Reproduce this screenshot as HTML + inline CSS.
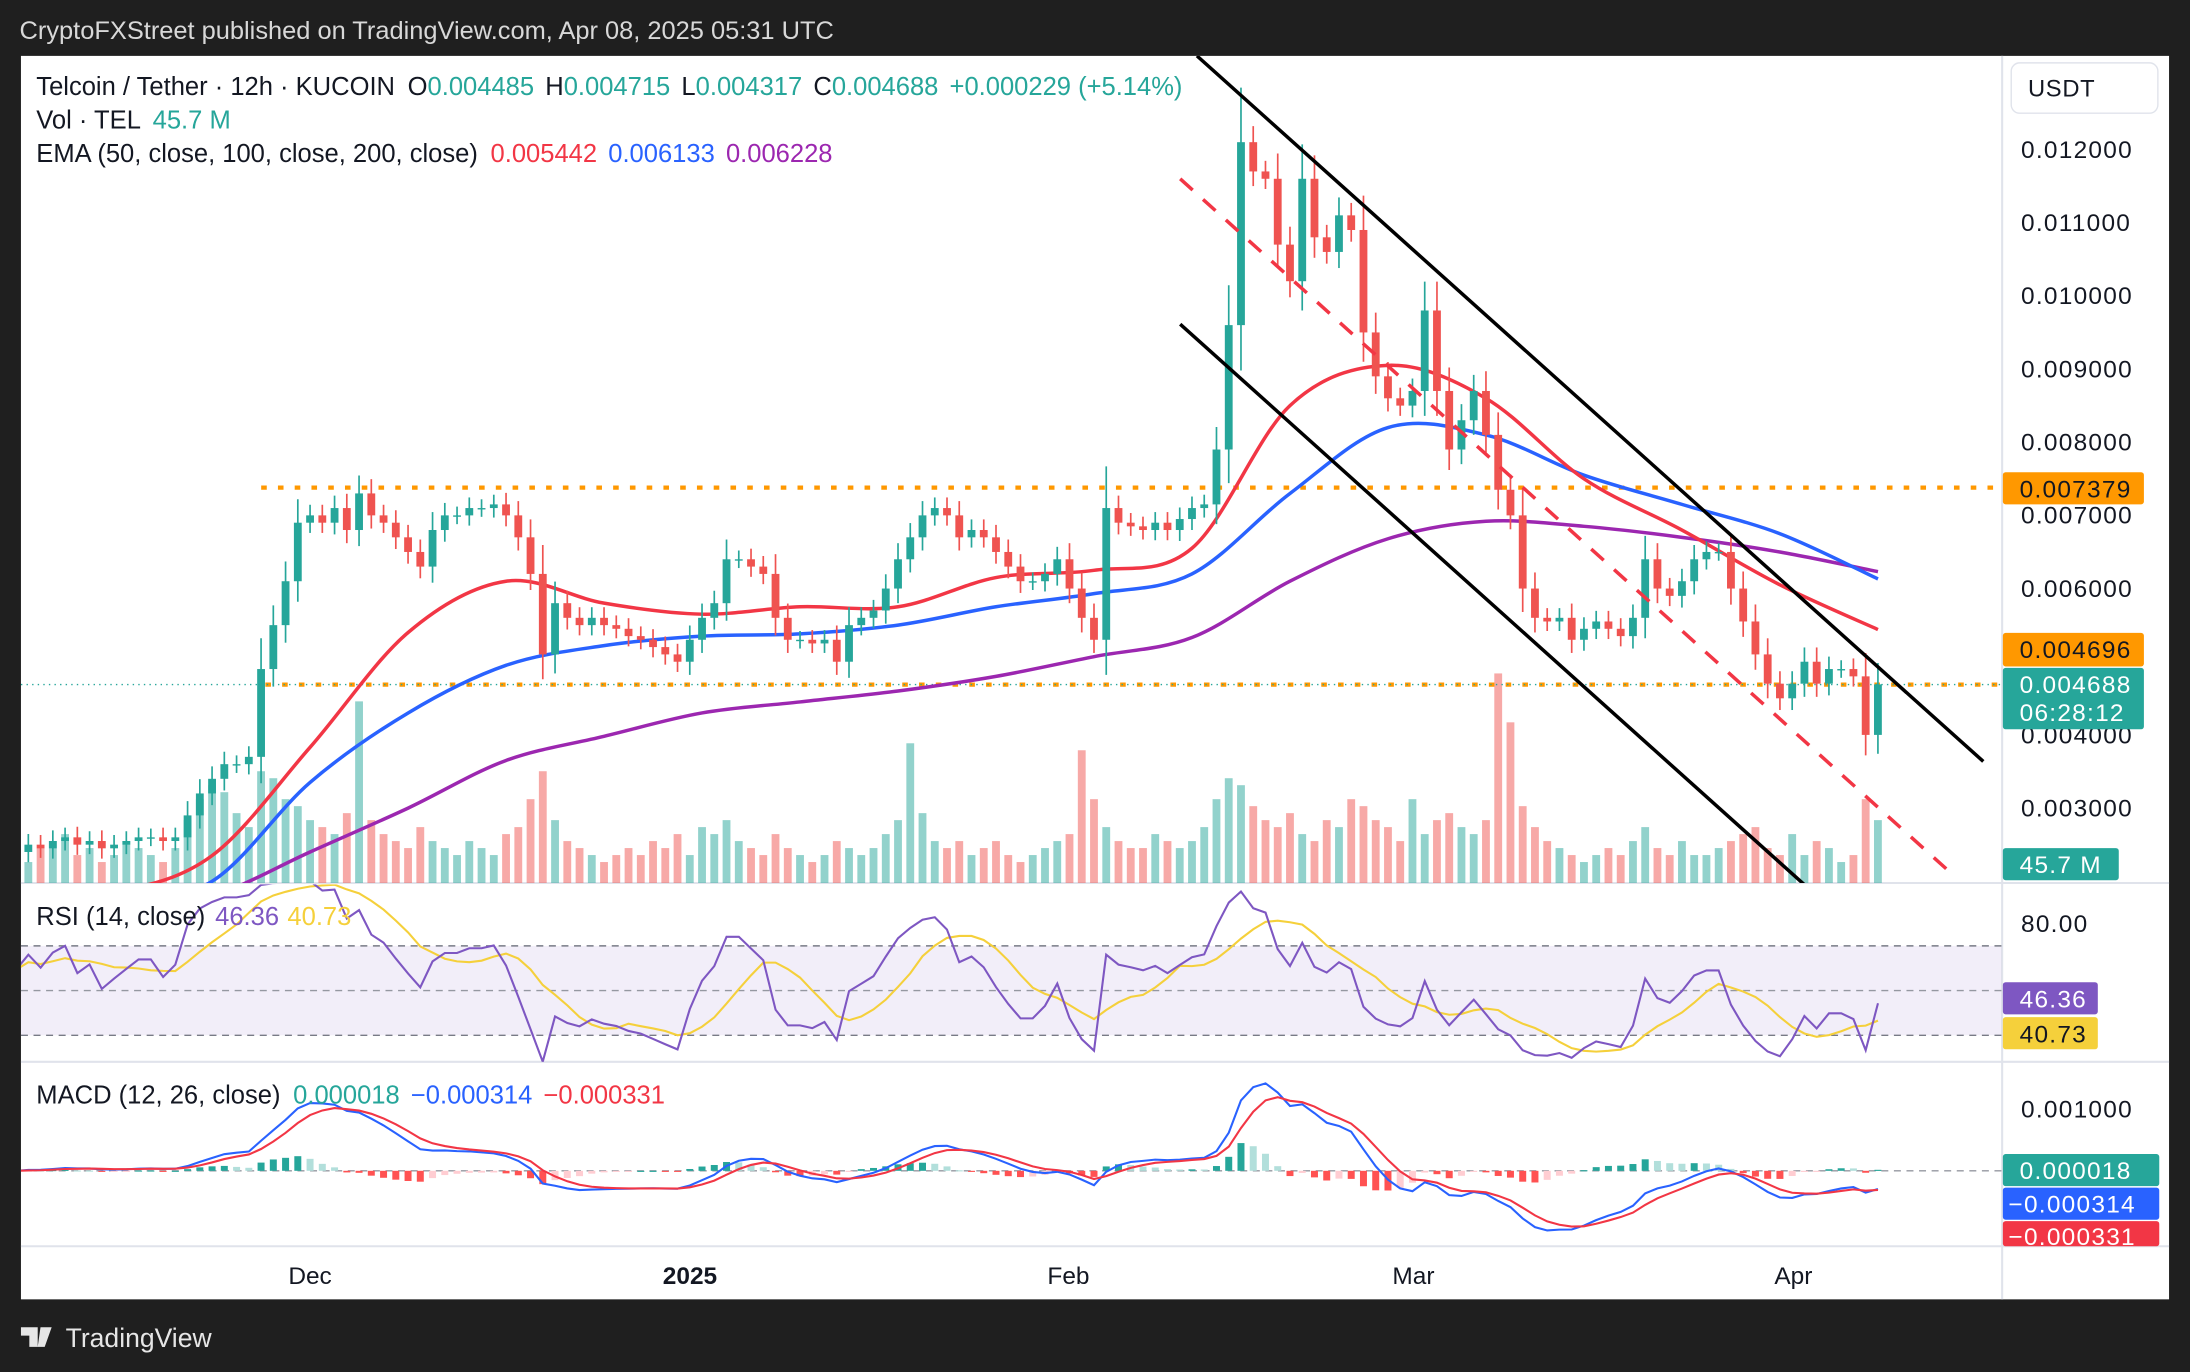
<!DOCTYPE html>
<html><head><meta charset="utf-8"><style>
html,body{margin:0;padding:0;background:#1f1f1f;}
svg{display:block;font-family:"Liberation Sans",sans-serif;}
</style></head><body>
<svg id="chart" width="2190" height="1372" viewBox="0 0 1568 982" preserveAspectRatio="none" xmlns="http://www.w3.org/2000/svg">
<rect x="0" y="0" width="1568" height="982" fill="#1f1f1f"/>
<text x="14" y="28" font-size="18.2" fill="#d8d8d8">CryptoFXStreet published on TradingView.com, Apr 08, 2025 05:31 UTC</text>
<rect x="15" y="40" width="1538" height="890" fill="#ffffff"/>
<defs>
<clipPath id="pricePane"><rect x="15" y="40" width="1418" height="592"/></clipPath>
<clipPath id="rsiPane"><rect x="15" y="633" width="1418" height="127"/></clipPath>
<clipPath id="macdPane"><rect x="15" y="761" width="1418" height="131"/></clipPath>
</defs>
<g id="grid">
<line x1="15" y1="632" x2="1553" y2="632" stroke="#e0e3eb" stroke-width="1.5"/>
<line x1="15" y1="760" x2="1553" y2="760" stroke="#e0e3eb" stroke-width="1.5"/>
<line x1="15" y1="892" x2="1553" y2="892" stroke="#e0e3eb" stroke-width="1.5"/>
<line x1="1433.5" y1="40" x2="1433.5" y2="930" stroke="#e0e3eb" stroke-width="1.5"/>
</g>
<rect x="15" y="677" width="1418" height="64" fill="#7e57c2" fill-opacity="0.1"/>
<line x1="15" y1="677" x2="1433" y2="677" stroke="#787b86" stroke-dasharray="5,4" stroke-width="1"/>
<line x1="15" y1="709" x2="1433" y2="709" stroke="#9598a1" stroke-dasharray="5,4" stroke-width="1"/>
<line x1="15" y1="741" x2="1433" y2="741" stroke="#787b86" stroke-dasharray="5,4" stroke-width="1"/>
<line x1="15" y1="838" x2="1433" y2="838" stroke="#9598a1" stroke-dasharray="5,4" stroke-width="1"/>
<g id="volumes" clip-path="url(#pricePane)"></g>
<g id="levels" clip-path="url(#pricePane)">
<line x1="187" y1="349" x2="1433" y2="349" stroke="#ff9800" stroke-width="3" stroke-dasharray="4,8"/>
<line x1="190" y1="490" x2="1433" y2="490" stroke="#ff9800" stroke-width="3" stroke-dasharray="4,8"/>
<line x1="15" y1="490" x2="1433" y2="490" stroke="#26a69a" stroke-width="1" stroke-dasharray="1,3"/>
</g>
<g id="emas" clip-path="url(#pricePane)"></g>
<g id="candles" clip-path="url(#pricePane)"></g>
<g id="trendlines" clip-path="url(#pricePane)">
<line x1="857" y1="40" x2="1420" y2="545" stroke="#000" stroke-width="2.5"/>
<line x1="845" y1="232" x2="1295" y2="636" stroke="#000" stroke-width="2.5"/>
<line x1="845" y1="128" x2="1397" y2="625" stroke="#f23645" stroke-width="2.5" stroke-dasharray="12,10"/>
</g>
<g id="rsi" clip-path="url(#rsiPane)"></g>
<g id="macd" clip-path="url(#macdPane)"></g>
<g font-size="18.3">
<text x="26" y="68" fill="#131722">Telcoin / Tether · 12h · KUCOIN <tspan dx="4">O</tspan><tspan fill="#26a69a">0.004485</tspan><tspan dx="8">H</tspan><tspan fill="#26a69a">0.004715</tspan><tspan dx="8">L</tspan><tspan fill="#26a69a">0.004317</tspan><tspan dx="8">C</tspan><tspan fill="#26a69a">0.004688</tspan><tspan dx="8" fill="#26a69a">+0.000229 (+5.14%)</tspan></text>
<text x="26" y="92" fill="#131722">Vol · TEL <tspan dx="4" fill="#26a69a">45.7 M</tspan></text>
<text x="26" y="116" fill="#131722">EMA (50, close, 100, close, 200, close) <tspan dx="4" fill="#f23645">0.005442</tspan><tspan dx="8" fill="#2962ff">0.006133</tspan><tspan dx="8" fill="#9c27b0">0.006228</tspan></text>
<text x="26" y="662" fill="#131722">RSI (14, close) <tspan dx="2" fill="#7e57c2">46.36</tspan><tspan dx="6" fill="#f5d03b">40.73</tspan></text>
<text x="26" y="790" fill="#131722">MACD (12, 26, close) <tspan dx="4" fill="#26a69a">0.000018</tspan><tspan dx="8" fill="#2962ff">−0.000314</tspan><tspan dx="8" fill="#f23645">−0.000331</tspan></text>
</g>
<rect x="1440" y="45" width="105" height="36" rx="6" fill="#fff" stroke="#e0e3eb"/>
<text x="1452" y="69" font-size="17" fill="#131722" letter-spacing="0.5">USDT</text>
<g id="yaxis" font-size="17.5" fill="#131722" letter-spacing="0.9"></g>
<g font-size="17.5" letter-spacing="0.9">
<rect x="1434" y="338" width="101" height="23" rx="2" fill="#ff9800"/>
<text x="1446" y="356" fill="#131722">0.007379</text>
<rect x="1434" y="453" width="101" height="24" rx="2" fill="#ff9800"/>
<text x="1446" y="471" fill="#131722">0.004696</text>
<rect x="1434" y="478" width="101" height="44" rx="2" fill="#26a69a"/>
<text x="1446" y="496" fill="#fff">0.004688</text>
<text x="1446" y="516" fill="#fff">06:28:12</text>
<rect x="1434" y="607" width="83" height="23" rx="2" fill="#26a69a"/>
<text x="1446" y="625" fill="#fff">45.7 M</text>
<text x="1447" y="667" fill="#131722">80.00</text>
<rect x="1434" y="703" width="68" height="23" rx="2" fill="#7e57c2"/>
<text x="1446" y="721" fill="#fff">46.36</text>
<rect x="1434" y="728" width="68" height="23" rx="2" fill="#f5d03b"/>
<text x="1446" y="746" fill="#131722">40.73</text>
<text x="1447" y="800" fill="#131722">0.001000</text>
<rect x="1434" y="826" width="112" height="23" rx="2" fill="#26a69a"/>
<text x="1446" y="844" fill="#fff">0.000018</text>
<rect x="1434" y="850" width="112" height="23" rx="2" fill="#2962ff"/>
<text x="1438" y="868" fill="#fff">−0.000314</text>
<rect x="1434" y="874" width="112" height="18" rx="2" fill="#f23645"/>
<text x="1438" y="891" fill="#fff">−0.000331</text>
</g>
<g font-size="17.5" fill="#131722" text-anchor="middle">
<text x="222" y="919">Dec</text>
<text x="494" y="919" font-weight="bold">2025</text>
<text x="765" y="919">Feb</text>
<text x="1012" y="919">Mar</text>
<text x="1284" y="919">Apr</text>
</g>
<g>
<path d="M15 950h12v14h-6v-8h-6z M29 950h8l-5 14h-5z" fill="#e6e6e6"/>
<text x="47" y="964" font-size="19" fill="#e6e6e6">TradingView</text>
</g>
</svg>
<script>
// price values in thousandths of USDT (daily closes, Nov 7 2024 -> Apr 8 2025)
const closes=[2.4,2.5,2.45,2.55,2.6,2.5,2.55,2.45,2.5,2.55,2.6,2.6,2.55,2.6,
2.9,3.2,3.4,3.6,3.6,3.7,4.9,5.5,6.1,6.9,7.0,6.9,7.1,6.8,
7.3,7.0,6.9,6.7,6.5,6.3,6.8,7.0,7.0,7.1,7.1,7.15,7.0,6.7,
6.2,5.1,5.8,5.6,5.5,5.6,5.5,5.45,5.35,5.3,5.2,5.1,5.0,5.3,
5.6,5.8,6.4,6.4,6.3,6.2,5.6,5.3,5.3,5.25,5.3,5.0,5.5,5.6,
5.7,6.0,6.4,6.7,7.0,7.1,7.0,6.7,6.8,6.7,6.5,6.3,6.1,6.1,
6.2,6.4,6.0,5.6,5.3,7.1,6.9,6.85,6.8,6.9,6.8,6.95,7.1,7.15,
7.9,9.6,12.1,11.7,11.6,10.7,10.2,11.6,10.8,10.6,11.1,10.9,9.5,8.9,
8.6,8.5,8.7,9.8,8.7,7.9,8.3,8.7,8.1,7.35,7.0,6.0,5.6,5.55,
5.6,5.3,5.45,5.55,5.45,5.35,5.6,6.4,6.0,5.9,6.1,6.4,6.5,6.5,
6.0,5.55,5.1,4.7,4.5,4.7,5.0,4.7,4.9,4.9,4.8,4.0,4.69];
const firstOpen=2.35;
const volumes=[20,15,25,30,35,20,25,15,20,30,25,20,15,25,
45,60,70,65,50,40,80,75,60,55,45,40,35,50,
130,45,35,30,25,40,30,25,20,30,25,20,35,40,
60,80,45,30,25,20,15,20,25,20,30,25,35,20,
40,35,45,30,25,20,35,25,20,15,20,30,25,20,
25,35,45,100,50,30,25,30,20,25,30,20,15,20,
25,30,35,95,60,40,30,25,25,35,30,25,30,40,
60,75,70,55,45,40,50,35,30,45,40,60,55,45,
40,30,60,35,45,50,40,35,45,150,115,55,40,30,
25,20,15,20,25,20,30,40,25,20,30,20,20,25,
30,35,40,25,20,35,20,30,25,15,20,60,45];
const emaDays=[0,8,16,24,32,40,48,56,64,72,80,88,96,104,112,120,128,136,144,152];
const ema50=[1.8,1.85,2.35,3.83,5.4,6.1,5.8,5.65,5.75,5.75,6.15,6.25,6.55,8.5,9.05,8.6,7.5,6.8,6.05,5.44];
const ema100=[1.6,1.7,2.0,3.35,4.3,4.95,5.22,5.35,5.38,5.5,5.75,5.93,6.2,7.3,8.2,8.1,7.55,7.15,6.75,6.13];
const ema200=[1.5,1.6,1.8,2.4,3.0,3.65,3.98,4.3,4.45,4.6,4.8,5.07,5.33,6.1,6.68,6.92,6.85,6.7,6.5,6.23];
const priceTicks=[12,11,10,9,8,7,6,4,3];
const priceTickLabels=["0.012000","0.011000","0.010000","0.009000","0.008000","0.007000","0.006000","0.004000","0.003000"];

const NS="http://www.w3.org/2000/svg";
function X(d){return 222+(d-24)*8.77;}
function Y(p){return 107+(12-p)*52.375;}
function RY(v){return 709-(v-50)*1.6;}
function MY(v){return 838-v*45;}
function VY(v){return 632-v;}
function mk(tag,attrs,parent){const e=document.createElementNS(NS,tag);for(const k in attrs)e.setAttribute(k,attrs[k]);parent.appendChild(e);return e;}
function smoothPath(pts){let d="M"+pts[0][0].toFixed(1)+","+pts[0][1].toFixed(1);
for(let i=0;i<pts.length-1;i++){const p0=pts[Math.max(0,i-1)],p1=pts[i],p2=pts[i+1],p3=pts[Math.min(pts.length-1,i+2)];
const c1x=p1[0]+(p2[0]-p0[0])/6,c1y=p1[1]+(p2[1]-p0[1])/6,c2x=p2[0]-(p3[0]-p1[0])/6,c2y=p2[1]-(p3[1]-p1[1])/6;
d+=" C"+c1x.toFixed(1)+","+c1y.toFixed(1)+" "+c2x.toFixed(1)+","+c2y.toFixed(1)+" "+p2[0].toFixed(1)+","+p2[1].toFixed(1);}
return d;}
const UP="#26a69a",DN="#ef5350";

const ya=document.getElementById('yaxis');
priceTicks.forEach((p,i)=>{const t=mk('text',{x:1447,y:Y(p)+6},ya);t.textContent=priceTickLabels[i];

});

const vg=document.getElementById('volumes');
closes.forEach((c,i)=>{const o=i?closes[i-1]:firstOpen;
const r=mk('rect',{x:X(i)-2.8,y:VY(volumes[i]),width:5.6,height:volumes[i],fill:c>=o?"rgba(38,166,154,0.5)":"rgba(239,83,80,0.5)"},vg);

});

const eg=document.getElementById('emas');
[[ema200,"#9c27b0","ema-200-line"],[ema100,"#2962ff","ema-100-line"],[ema50,"#f23645","ema-50-line"]].forEach(([arr,col,name])=>{
const pts=arr.map((v,i)=>[X(emaDays[i]),Y(v)]);
const pl=mk('path',{d:smoothPath(pts),fill:"none",stroke:col,"stroke-width":2.5,"stroke-linejoin":"round"},eg);

});

const cg=document.getElementById('candles');
closes.forEach((c,i)=>{const o=i?closes[i-1]:firstOpen;const col=c>=o?UP:DN;
const top=Math.max(o,c),bot=Math.min(o,c),rng=top-bot;
const hi=top+0.12+rng*0.25,lo=bot-0.12-rng*0.2;
const g=mk('g',{},cg);


mk('line',{x1:X(i),x2:X(i),y1:Y(hi),y2:Y(lo),stroke:col,"stroke-width":1.2},g);
mk('rect',{x:X(i)-2.8,y:Y(top),width:5.6,height:Math.max(1,Y(bot)-Y(top)),fill:col},g);});

const rsi=[],rsiMa=[];let ag=0,al=0;const P=7;
for(let i=0;i<closes.length;i++){const o=i?closes[i-1]:firstOpen;const ch=closes[i]-o;
const g=Math.max(ch,0),l=Math.max(-ch,0);
if(i===0){ag=0.05;al=0.04;}ag=(ag*(P-1)+g)/P;al=(al*(P-1)+l)/P;
rsi.push(100-100/(1+ag/Math.max(al,1e-6)));}
for(let i=0;i<rsi.length;i++){const s=rsi.slice(Math.max(0,i-6),i+1);rsiMa.push(s.reduce((a,b)=>a+b,0)/s.length);}
const rg=document.getElementById('rsi');
const rma=mk('polyline',{points:rsiMa.map((v,i)=>X(i).toFixed(1)+","+RY(v).toFixed(1)).join(" "),fill:"none",stroke:"#f5d03b","stroke-width":1.5},rg);


const rl=mk('polyline',{points:rsi.map((v,i)=>X(i).toFixed(1)+","+RY(v).toFixed(1)).join(" "),fill:"none",stroke:"#7e57c2","stroke-width":1.5},rg);



function ema(arr,n){const a=2/(n+1);const out=[];let e=arr[0];arr.forEach((v,i)=>{e=i?a*v+(1-a)*e:v;out.push(e);});return out;}
const f=ema(closes,6),s=ema(closes,13);const macd=f.map((v,i)=>v-s[i]);const sig=ema(macd,4);
const mg=document.getElementById('macd');
macd.forEach((m,i)=>{const h=m-sig[i];const ph=i?macd[i-1]-sig[i-1]:0;
let col=h>=0?(h>=ph?"#26a69a":"#b2dfdb"):(h<=ph?"#ff5252":"#ffcdd2");
const y0=MY(0),y1=MY(h);
const r=mk('rect',{x:X(i)-2.5,y:Math.min(y0,y1),width:5,height:Math.max(0.8,Math.abs(y1-y0)),fill:col},mg);

});
const ml=mk('polyline',{points:macd.map((v,i)=>X(i).toFixed(1)+","+MY(v).toFixed(1)).join(" "),fill:"none",stroke:"#2962ff","stroke-width":1.5},mg);


const sl=mk('polyline',{points:sig.map((v,i)=>X(i).toFixed(1)+","+MY(v).toFixed(1)).join(" "),fill:"none",stroke:"#f23645","stroke-width":1.5},mg);


</script>
</body></html>
